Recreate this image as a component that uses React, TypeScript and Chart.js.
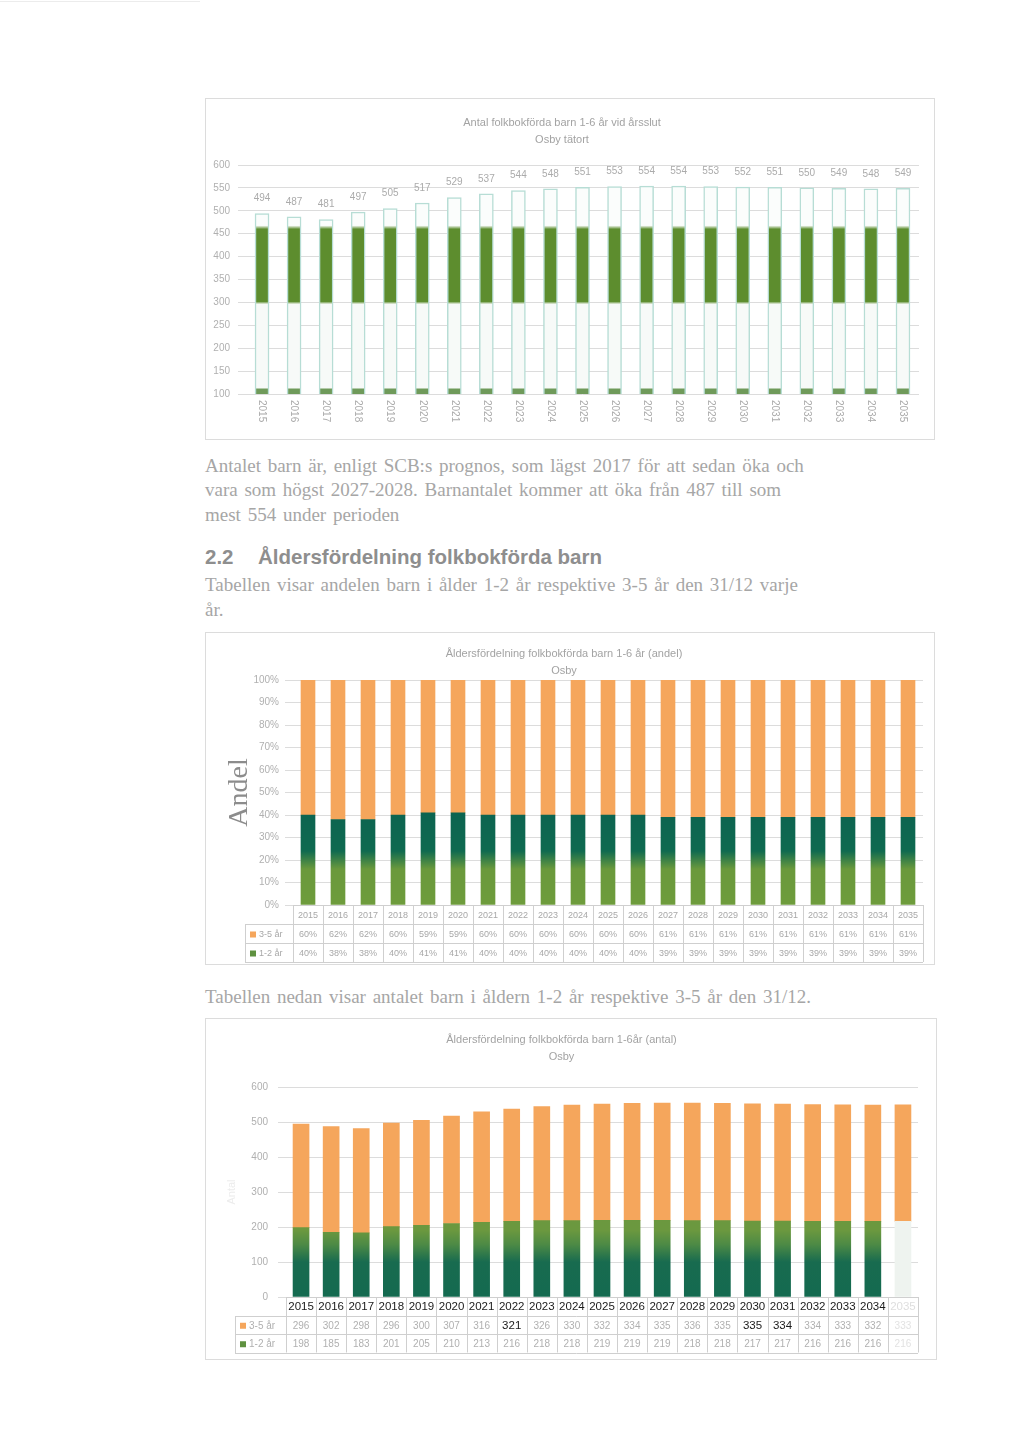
import React, { useEffect, useRef } from 'react';
import { Chart, registerables } from 'chart.js';
Chart.register(...registerables);

const years = ['2015', '2016', '2017', '2018', '2019', '2020', '2021', '2022', '2023', '2024', '2025', '2026', '2027', '2028', '2029', '2030', '2031', '2032', '2033', '2034', '2035'];
const totalChildren = [494, 487, 481, 497, 505, 517, 529, 537, 544, 548, 551, 553, 554, 554, 553, 552, 551, 550, 549, 548, 549];
const share35 = [60, 62, 62, 60, 59, 59, 60, 60, 60, 60, 60, 60, 61, 61, 61, 61, 61, 61, 61, 61, 61];
const share12 = [40, 38, 38, 40, 41, 41, 40, 40, 40, 40, 40, 40, 39, 39, 39, 39, 39, 39, 39, 39, 39];
const count35 = [296, 302, 298, 296, 300, 307, 316, 321, 326, 330, 332, 334, 335, 336, 335, 335, 334, 334, 333, 332, 333];
const count12 = [198, 185, 183, 201, 205, 210, 213, 216, 218, 218, 219, 219, 219, 218, 218, 217, 217, 216, 216, 216, 216];
const darkCells35 = [7, 15, 16];
const seriesNames = ['3-5 år', '1-2 år'];

const ORANGE = '#F5A65C';
const FONT = "'Liberation Sans', Arial, sans-serif";
const SERIF = "'Liberation Serif', 'Times New Roman', serif";

Chart.defaults.font.family = FONT;

function gradientFill(stops: [number, string][]) {
  return (c: any) => {
    const chart = c.chart;
    const area = chart.chartArea;
    if (!area) return stops[0][1];
    const y = chart.scales.y;
    const g = chart.ctx.createLinearGradient(0, area.top, 0, area.bottom);
    const sorted = stops
      .map(([v, col]) => [Math.min(1, Math.max(0, (y.getPixelForValue(v) - area.top) / (area.bottom - area.top))), col] as [number, string])
      .sort((a, b) => a[0] - b[0]);
    sorted.forEach(([o, col]) => g.addColorStop(o, col));
    return g;
  };
}

const valueLabels = {
  id: 'valueLabels',
  afterDatasetsDraw(chart: any) {
    const ctx = chart.ctx;
    const meta = chart.getDatasetMeta(0);
    const data = chart.data.datasets[0].data;
    ctx.save();
    ctx.font = `10px ${FONT}`;
    ctx.fillStyle = '#ababab';
    ctx.textAlign = 'center';
    ctx.textBaseline = 'middle';
    meta.data.forEach((el: any, i: number) => {
      ctx.fillText(String(data[i]), el.x, el.y - 15);
    });
    ctx.restore();
  },
};

const verticalYearLabels = {
  id: 'verticalYearLabels',
  afterDraw(chart: any) {
    const ctx = chart.ctx;
    const xs = chart.scales.x;
    const area = chart.chartArea;
    ctx.save();
    ctx.font = `10px ${FONT}`;
    ctx.fillStyle = '#ababab';
    ctx.textAlign = 'left';
    ctx.textBaseline = 'middle';
    (chart.data.labels as string[]).forEach((lab, i) => {
      ctx.save();
      ctx.translate(xs.getPixelForValue(i), area.bottom + 6);
      ctx.rotate(Math.PI / 2);
      ctx.fillText(lab, 0, 0);
      ctx.restore();
    });
    ctx.restore();
  },
};

type TableRow = { label: string; color: string; values: string[]; dark?: number[] };
type TableOpts = {
  rowH: number;
  labelLeft: number;
  border: string;
  headerFont: string;
  headerColor: string;
  cellFont: string;
  cellColor: string;
  darkFont?: string;
  darkColor?: string;
  fadeLast?: boolean;
  rows: TableRow[];
};

function makeTable(o: TableOpts) {
  return {
    id: 'dataTable',
    afterDraw(chart: any) {
      const ctx = chart.ctx;
      const xs = chart.scales.x;
      const labels = chart.data.labels as string[];
      const n = labels.length;
      const step = xs.getPixelForValue(1) - xs.getPixelForValue(0);
      const left = xs.getPixelForValue(0) - step / 2;
      const right = xs.getPixelForValue(n - 1) + step / 2;
      const top = chart.chartArea.bottom;
      const h = o.rowH;
      const nr = o.rows.length;
      const bottom = top + h * (nr + 1);
      ctx.save();
      ctx.strokeStyle = o.border;
      ctx.lineWidth = 1;
      ctx.beginPath();
      for (let i = 0; i <= n; i++) {
        const x = Math.round(left + i * step) + 0.5;
        ctx.moveTo(x, top);
        ctx.lineTo(x, bottom);
      }
      ctx.moveTo(left, Math.round(top) + 0.5);
      ctx.lineTo(right, Math.round(top) + 0.5);
      for (let r = 1; r <= nr + 1; r++) {
        const y = Math.round(top + r * h) + 0.5;
        ctx.moveTo(o.labelLeft, y);
        ctx.lineTo(right, y);
      }
      ctx.moveTo(o.labelLeft + 0.5, Math.round(top + h) + 0.5);
      ctx.lineTo(o.labelLeft + 0.5, Math.round(bottom) + 0.5);
      ctx.stroke();

      ctx.textAlign = 'center';
      ctx.textBaseline = 'middle';
      labels.forEach((lab, i) => {
        ctx.font = o.headerFont;
        ctx.fillStyle = o.fadeLast && i === n - 1 ? '#dedede' : o.headerColor;
        ctx.fillText(lab, left + (i + 0.5) * step, top + h / 2 + 1);
      });
      o.rows.forEach((row, r) => {
        const cy = top + h * (r + 1) + h / 2 + 1;
        row.values.forEach((v, i) => {
          const dark = row.dark && row.dark.includes(i);
          ctx.font = dark && o.darkFont ? o.darkFont : o.cellFont;
          ctx.fillStyle = dark && o.darkColor ? o.darkColor : o.fadeLast && i === n - 1 ? '#e2e2e2' : o.cellColor;
          ctx.fillText(v, left + (i + 0.5) * step, cy);
        });
        ctx.fillStyle = row.color;
        ctx.fillRect(o.labelLeft + 5, cy - 3, 6, 6);
        ctx.textAlign = 'left';
        ctx.font = o.cellFont;
        ctx.fillStyle = o.cellColor;
        ctx.fillText(row.label, o.labelLeft + 14, cy);
        ctx.textAlign = 'center';
      });
      ctx.restore();
    },
  };
}

function chart1Config(): any {
  const fill = gradientFill([
    [600, '#fbfdfc'],
    [468, '#fbfdfc'],
    [460, '#5d8d2e'],
    [302, '#5d8d2e'],
    [296, '#f7faf8'],
    [114, '#f7faf8'],
    [110, '#6f9a5a'],
    [100, '#6f9a5a'],
  ]);
  return {
    type: 'bar',
    data: {
      labels: years,
      datasets: [
        { label: 'Antal', data: totalChildren, backgroundColor: fill, borderColor: '#b7ddd5', borderWidth: 1.5, barThickness: 14 },
      ],
    },
    options: {
      responsive: false,
      animation: false,
      layout: { padding: { left: 0, right: 16, top: 0, bottom: 0 } },
      plugins: {
        legend: { display: false },
        tooltip: { enabled: false },
        title: {
          display: true,
          text: ['Antal folkbokförda barn 1-6 år vid årsslut', 'Osby tätort'],
          font: { size: 11, family: FONT, weight: 'normal', lineHeight: 1.5 },
          color: '#a3a3a3',
          padding: { top: 17, bottom: 17 },
        },
      },
      scales: {
        x: {
          grid: { display: false },
          border: { display: false },
          ticks: { display: false },
          afterFit: (s: any) => { s.height = 46; },
        },
        y: {
          min: 100,
          max: 600,
          ticks: { stepSize: 50, font: { size: 10 }, color: '#b0b0b0', padding: 8 },
          grid: { color: '#dcdcdc' },
          border: { display: false },
          afterFit: (s: any) => { s.width = 41; },
        },
      },
    },
    plugins: [valueLabels, verticalYearLabels],
  };
}

function chart2Config(): any {
  const green = gradientFill([
    [100, '#0c6450'],
    [40, '#0c6450'],
    [24, '#0f6a50'],
    [16, '#6a993c'],
    [0, '#6e9c3c'],
  ]);
  return {
    type: 'bar',
    data: {
      labels: years,
      datasets: [
        { label: seriesNames[1], data: share12, backgroundColor: green, barThickness: 14 },
        { label: seriesNames[0], data: share35, backgroundColor: ORANGE, barThickness: 14 },
      ],
    },
    options: {
      responsive: false,
      animation: false,
      layout: { padding: { left: 0, right: 12, top: 0, bottom: 0 } },
      plugins: {
        legend: { display: false },
        tooltip: { enabled: false },
        title: {
          display: true,
          text: ['Åldersfördelning folkbokförda barn 1-6 år (andel)', 'Osby'],
          font: { size: 11, family: FONT, weight: 'normal', lineHeight: 1.5 },
          color: '#a3a3a3',
          padding: { top: 14, bottom: 1 },
        },
      },
      scales: {
        x: {
          stacked: true,
          grid: { display: false },
          border: { color: '#c8c8c8' },
          ticks: { display: false },
          afterFit: (s: any) => { s.height = 60; },
        },
        y: {
          stacked: true,
          min: 0,
          max: 100,
          ticks: { stepSize: 10, font: { size: 10 }, color: '#b0b0b0', padding: 6, callback: (v: any) => v + '%' },
          grid: { color: '#dcdcdc' },
          border: { display: false },
          title: { display: true, text: 'Andel', font: { size: 28, family: SERIF }, color: '#8c8c8c', padding: { top: 18, bottom: 0 } },
          afterFit: (s: any) => { s.width = 88; },
        },
      },
    },
    plugins: [
      makeTable({
        rowH: 19,
        labelLeft: 40,
        border: '#cfcfcf',
        headerFont: `9px ${FONT}`,
        headerColor: '#a8a8a8',
        cellFont: `9px ${FONT}`,
        cellColor: '#a8a8a8',
        rows: [
          { label: seriesNames[0], color: ORANGE, values: share35.map((v) => v + '%') },
          { label: seriesNames[1], color: '#5f9140', values: share12.map((v) => v + '%') },
        ],
      }),
    ],
  };
}

function chart3Config(): any {
  const greenGrad = gradientFill([
    [600, '#6b983f'],
    [190, '#6b983f'],
    [150, '#4d8a45'],
    [100, '#186b4f'],
    [0, '#146a50'],
  ]);
  const green = (c: any) => (c.dataIndex === years.length - 1 ? '#eef3ef' : greenGrad(c));
  return {
    type: 'bar',
    data: {
      labels: years,
      datasets: [
        { label: seriesNames[1], data: count12, backgroundColor: green, barThickness: 16 },
        { label: seriesNames[0], data: count35, backgroundColor: ORANGE, barThickness: 16 },
      ],
    },
    options: {
      responsive: false,
      animation: false,
      layout: { padding: { left: 0, right: 19, top: 0, bottom: 0 } },
      plugins: {
        legend: { display: false },
        tooltip: { enabled: false },
        title: {
          display: true,
          text: ['Åldersfördelning folkbokförda barn 1-6år (antal)', 'Osby'],
          font: { size: 11, family: FONT, weight: 'normal', lineHeight: 1.5 },
          color: '#a3a3a3',
          padding: { top: 14, bottom: 22 },
        },
      },
      scales: {
        x: {
          stacked: true,
          grid: { display: false },
          border: { color: '#c8c8c8' },
          ticks: { display: false },
          afterFit: (s: any) => { s.height = 63; },
        },
        y: {
          stacked: true,
          min: 0,
          max: 600,
          ticks: { stepSize: 100, font: { size: 10 }, color: '#b0b0b0', padding: 10 },
          grid: { color: '#dcdcdc' },
          border: { display: false },
          title: { display: true, text: 'Antal', font: { size: 11 }, color: '#ececec', padding: { top: 20, bottom: 0 } },
          afterFit: (s: any) => { s.width = 81; },
        },
      },
    },
    plugins: [
      makeTable({
        rowH: 18.5,
        labelLeft: 30,
        border: '#cfcfcf',
        headerFont: `11.5px ${FONT}`,
        headerColor: '#1a1a1a',
        cellFont: `10px ${FONT}`,
        cellColor: '#b0b0b0',
        darkFont: `11.5px ${FONT}`,
        darkColor: '#1a1a1a',
        fadeLast: true,
        rows: [
          { label: seriesNames[0], color: ORANGE, values: count35.map(String), dark: darkCells35 },
          { label: seriesNames[1], color: '#5f9140', values: count12.map(String) },
        ],
      }),
    ],
  };
}

function ChartBox(props: { left: number; top: number; width: number; height: number; build: () => any }) {
  const { left, top, width, height, build } = props;
  const ref = useRef<HTMLCanvasElement>(null);
  useEffect(() => {
    const chart = new Chart(ref.current as HTMLCanvasElement, build());
    return () => chart.destroy();
  }, []);
  return (
    <>
      <div style={{ position: 'absolute', left, top, width, height, border: '1px solid #dcdcdc', boxSizing: 'border-box' }} />
      <canvas ref={ref} width={width} height={height} style={{ position: 'absolute', left, top, width, height }} />
    </>
  );
}

function Line(props: { top: number; left?: number; children: any; style?: any }) {
  return (
    <div
      style={{
        position: 'absolute',
        left: props.left ?? 205,
        top: props.top,
        height: 24,
        lineHeight: '24px',
        whiteSpace: 'nowrap',
        fontFamily: SERIF,
        fontSize: 19,
        wordSpacing: 2,
        color: '#a6a6a6',
        ...(props.style || {}),
      }}
    >
      {props.children}
    </div>
  );
}

export default function App() {
  const heading = { fontFamily: FONT, fontWeight: 'bold', fontSize: 20.5, wordSpacing: 0, color: '#8e8e8e' };
  return (
    <div style={{ position: 'absolute', left: 0, top: 0, width: 1024, height: 1447, background: '#ffffff', overflow: 'hidden' }}>
      <div style={{ position: 'absolute', left: 0, top: 1, width: 200, height: 1, background: '#ececec' }} />
      <ChartBox left={205} top={98} width={730} height={342} build={chart1Config} />
      <Line top={454}>Antalet barn är, enligt SCB:s prognos, som lägst 2017 för att sedan öka och</Line>
      <Line top={478}>vara som högst 2027-2028. Barnantalet kommer att öka från 487 till som</Line>
      <Line top={503}>mest 554 under perioden</Line>
      <Line top={545} style={heading}>2.2</Line>
      <Line top={545} left={258} style={heading}>Åldersfördelning folkbokförda barn</Line>
      <Line top={573}>Tabellen visar andelen barn i ålder 1-2 år respektive 3-5 år den 31/12 varje</Line>
      <Line top={598}>år.</Line>
      <ChartBox left={205} top={632} width={730} height={333} build={chart2Config} />
      <Line top={985}>Tabellen nedan visar antalet barn i åldern 1-2 år respektive 3-5 år den 31/12.</Line>
      <ChartBox left={205} top={1018} width={732} height={342} build={chart3Config} />
    </div>
  );
}
